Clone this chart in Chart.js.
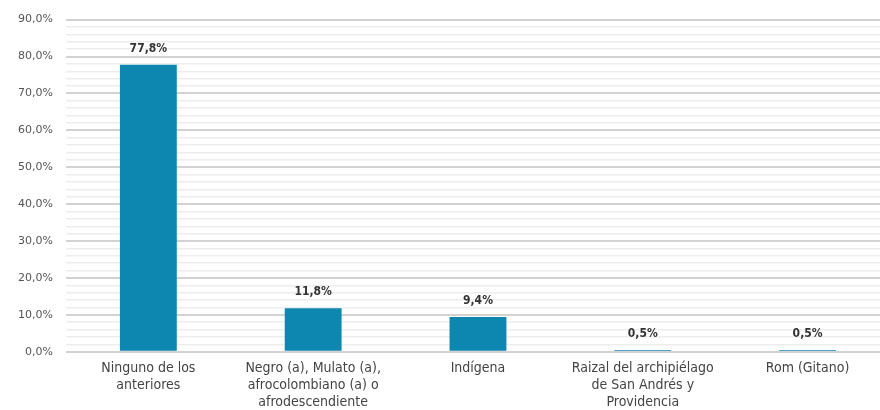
<!DOCTYPE html>
<html><head><meta charset="utf-8">
<script src="https://cdn.jsdelivr.net/npm/chart.js@4"></script>
<style>
html,body{margin:0;padding:0;overflow:hidden;background:#fff;width:880px;height:410px;}
#wrap{position:absolute;left:0;top:0;}
</style></head><body>
<div id="wrap"><canvas id="c" width="890" height="419"></canvas></div>
<script>
const categories = [
  ["Ninguno de los", "anteriores"],
  ["Negro (a), Mulato (a),", "afrocolombiano (a) o", "afrodescendiente"],
  ["Indígena"],
  ["Raizal del archipiélago", "de San Andrés y", "Providencia"],
  ["Rom (Gitano)"]
];
const values = [77.8, 11.8, 9.4, 0.5, 0.5];
const valueLabels = ["77,8%", "11,8%", "9,4%", "0,5%", "0,5%"];
const yTickLabels = {0:"0,0%",10:"10,0%",20:"20,0%",30:"30,0%",40:"40,0%",50:"50,0%",60:"60,0%",70:"70,0%",80:"80,0%",90:"90,0%"};

const FONT = "'DejaVu Sans Condensed', 'Liberation Sans Narrow', sans-serif";
const FONT_Y = "'DejaVu Sans', sans-serif";

const labelPlugin = {
  id: 'vlabels',
  afterDatasetsDraw(chart) {
    const ctx = chart.ctx;
    const meta = chart.getDatasetMeta(0);
    ctx.save();
    ctx.font = "bold 12px " + FONT;
    ctx.fillStyle = "#333";
    ctx.textAlign = "center";
    ctx.textBaseline = "bottom";
    meta.data.forEach((bar, i) => {
      ctx.fillText(valueLabels[i], bar.x, bar.y - 10);
    });
    ctx.restore();
  }
};

new Chart(document.getElementById('c'), {
  type: 'bar',
  data: {
    labels: categories,
    datasets: [{
      data: values,
      backgroundColor: '#0e87b0',
      barPercentage: 0.345,
      categoryPercentage: 1.0
    }]
  },
  options: {
    responsive: false,
    animation: false,
    devicePixelRatio: 1,
    layout: { padding: { top: 13, left: 5, right: 0, bottom: 0 } },
    plugins: { legend: { display: false }, tooltip: { enabled: false } },
    scales: {
      x: {
        grid: { display: false, drawTicks: false },
        border: { display: false },
        ticks: {
          color: '#444',
          font: { family: FONT, size: 14, lineHeight: 1.22 },
          padding: 8,
          maxRotation: 0,
          autoSkip: false
        }
      },
      y: {
        min: 0, max: 90,
        border: { display: false },
        grid: {
          drawTicks: false,
          color: (c) => (c.tick && c.tick.value % 10 === 0) ? '#d2d2d2' : '#ededed',
          lineWidth: (c) => (c.tick && c.tick.value % 10 === 0) ? 2 : 1.5
        },
        ticks: {
          stepSize: 2,
          autoSkip: false,
          color: '#555',
          padding: 13,
          font: { family: FONT_Y, size: 11 },
          callback: (v) => (v % 10 === 0) ? yTickLabels[v] : ''
        }
      }
    }
  },
  plugins: [labelPlugin]
});
</script>
</body></html>
